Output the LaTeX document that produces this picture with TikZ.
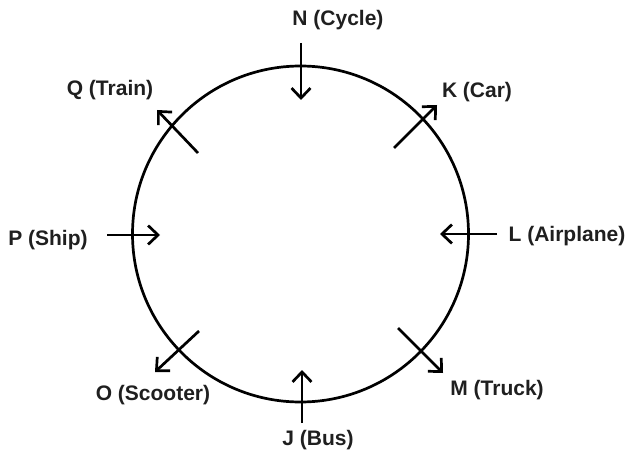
\documentclass[tikz,border=0pt]{standalone}
\usepackage{fontspec}
\setmainfont{Liberation Sans}
\usetikzlibrary{arrows.meta}
\begin{document}
\begin{tikzpicture}[x=1pt,y=-1pt,
  lbl/.style={font=\bfseries\fontsize{21}{24}\selectfont, text=black!88, inner sep=0pt},
  arr/.style={line width=2.7pt, -{Straight Barb[length=10pt,width=19pt,line width=2.7pt]}},
  ring/.style={draw, circle, line width=2.7pt, minimum size=336pt, inner sep=0pt}]
\useasboundingbox (0,0) rectangle (631,457);
\node[ring] (c) at (300.5,234) {};
% labels
\node[lbl] (N) at (338,20) {N (Cycle)};
\node[lbl] (K) at (477,92) {K (Car)};
\node[lbl] (L) at (567,236) {L (Airplane)};
\node[lbl] (M) at (497,390) {M (Truck)};
\node[lbl] (J) at (318,440) {J (Bus)};
\node[lbl] (O) at (153,395) {O (Scooter)};
\node[lbl] (P) at (48,240) {P (Ship)};
\node[lbl] (Q) at (110,90) {Q (Train)};
% arrow ends
\coordinate (n1) at (301,43);  \coordinate (n2) at (301,100);
\coordinate (k1) at (394,148); \coordinate (k2) at (437,105);
\coordinate (l1) at (497,234); \coordinate (l2) at (440,234);
\coordinate (m1) at (398,328); \coordinate (m2) at (443,373);
\coordinate (j1) at (302,423); \coordinate (j2) at (302,370);
\coordinate (o1) at (199,331); \coordinate (o2) at (155,372);
\coordinate (p1) at (107,235); \coordinate (p2) at (160,235);
\coordinate (q1) at (198,153); \coordinate (q2) at (157,110);
\foreach \a in {n,k,l,m,j,o,p,q} {\draw[arr] (\a1) -- (\a2);}
\end{tikzpicture}
\end{document}
